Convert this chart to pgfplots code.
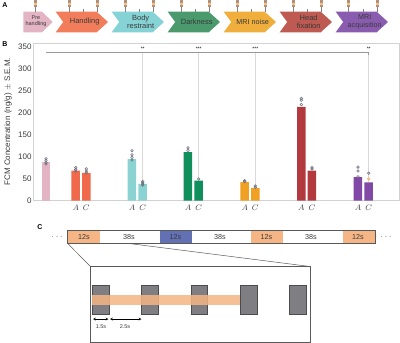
\documentclass[border=0pt]{standalone}
\usepackage{pgfplots}
\pgfplotsset{compat=1.18}
\usepackage{fontspec}
\setmainfont{Liberation Sans}
\definecolor{cpink}{HTML}{E3B4C3}
\definecolor{cred}{HTML}{F0694A}
\definecolor{cteal}{HTML}{8AD3D2}
\definecolor{cgreen}{HTML}{0F8F5C}
\definecolor{cor}{HTML}{F0A023}
\definecolor{cbrick}{HTML}{B23A3F}
\definecolor{cpur}{HTML}{8148A6}
\definecolor{agreen}{HTML}{4A9A6E}
\definecolor{abrick}{HTML}{BE5A52}
\definecolor{apur}{HTML}{8A5CB0}
\definecolor{ated}{HTML}{F27D5B}
\definecolor{ateal}{HTML}{86D3D6}
\definecolor{aor}{HTML}{F0AE3C}
\definecolor{txt}{HTML}{3A3A3A}
\definecolor{box}{HTML}{F5B584}
\definecolor{blu}{HTML}{6470B4}
\definecolor{gbox}{HTML}{7F7F83}
\definecolor{dot}{HTML}{6F7080}
\definecolor{syr}{HTML}{B0907A}
\begin{document}
\begin{tikzpicture}[x=1pt,y=-1pt,font=\fontsize{7}{8}\selectfont]
\useasboundingbox (0,0) rectangle (400,343);
% --- Panel A ---
\node[font=\bfseries\fontsize{7}{7}\selectfont] at (5,5) {A};
\node[font=\bfseries\fontsize{7}{7}\selectfont] at (5,44) {B};
\node[font=\bfseries\fontsize{7}{7}\selectfont] at (40,227) {C};
\fill[cpink] (23.3,11.7) -- (42,11.7) -- (52.7,22) -- (42,32.3) -- (23.3,32.3) -- cycle;
\node[txt,align=center,font=\fontsize{5.5}{6}\selectfont] at (36,21.5) {Pre\\handling};
\newcommand{\chev}[4]{%
 \fill[#2] (#1,11.7) -- ++(41,0) -- ++(11.3,10.3) -- ++(-11.3,10.3) -- ++(-41,0) -- ++(7.5,-10.3) -- cycle;
 \node[txt,align=center,font=\fontsize{#4}{8.5}\selectfont] at (#1+29,22) {#3};}
\chev{55.7}{ated}{Handling}{7.5}
\chev{111.7}{ateal}{Body\\restraint}{7.5}
\chev{167.7}{agreen}{Darkness}{7.5}
\chev{223.7}{aor}{MRI noise}{7.2}
\chev{279.7}{abrick}{Head\\fixation}{7.5}
\chev{335.7}{apur}{MRI\\acquisition}{7.2}
\foreach \s in {35,69.3,97.3,125,153.3,181,209.3,237,265.3,293,321.3,348.7,377.3}{
 \draw[gray,line width=.5pt] (\s,6) -- (\s,12);
 \fill[syr] (\s-1.5,0) rectangle (\s+1.5,6.5);
 \fill[orange!50] (\s-1.5,2.5) rectangle (\s+1.5,4.5);}
\foreach \s in {83.3,139.3,195.3,251.3,307.3,363.3}{\draw[gray,line width=.4pt] (\s,9) -- (\s,12);}
% --- Panel C ---
\fill[box] (67.7,230.5) rectangle (100,243.5);
\fill[blu] (159.7,230.5) rectangle (192,243.5);
\fill[box] (251,230.5) rectangle (283.3,243.5);
\fill[box] (343,230.5) rectangle (375,243.5);
\draw[gray!70!black,line width=.6pt] (67.7,230.5) rectangle (375,243.5);
\foreach \x/\t in {84/12s,129/38s,175.5/12s,220/38s,266.5/12s,311/38s,358/12s}
 \node[txt,font=\fontsize{7.2}{8}\selectfont] at (\x,237) {\t};
\node[txt] at (57,237) {.\,\,.\,\,.};
\node[txt] at (386,237) {.\,\,.\,\,.};
\draw[gray!70!black,line width=.5pt] (67.7,243.5) -- (90.5,266.5);
\draw[gray!70!black,line width=.5pt] (129,243.5) -- (310,266.5);
\draw[gray!70!black,line width=.7pt] (90.5,266.5) rectangle (310,342);
\foreach \x in {92.3,141.7,191,240.3,289.7}
 \filldraw[fill=gbox,draw=gray!60!black,line width=.6pt] (\x,285) rectangle (\x+16.5,314.5);
\fill[box,opacity=.85] (92.3,295) rectangle (240.3,304.5);
\draw[<->,>=stealth,line width=.3pt] (93,319) -- (108.5,319);
\draw[<->,>=stealth,line width=.3pt] (110,319) -- (141.5,319);
\node[txt,font=\fontsize{5.5}{6}\selectfont] at (101,327) {1.5s};
\node[txt,font=\fontsize{5.5}{6}\selectfont] at (125,327) {2.5s};
% --- Panel B ---
\begin{axis}[
  at={(33pt,-200.5pt)},anchor=south west,
  width=366.5pt,height=157.5pt,scale only axis,
  xmin=33,xmax=399.5,ymin=0,ymax=358,
  ybar,bar width=8.5pt,
  axis line style={gray!35,line width=.6pt},
  xtick={75.7,86.3,132,142.7,188,198.7,244.7,255.3,301.3,312,358,368.7},
  xticklabels={$A$,$C$,$A$,$C$,$A$,$C$,$A$,$C$,$A$,$C$,$A$,$C$},
  ytick={0,50,...,350},
  tick style={draw=none},
  tick label style={text=txt},
  yticklabel style={font=\fontsize{8}{8}\selectfont,xshift=2pt},
  xticklabel style={font=\fontsize{8.5}{8}\selectfont,yshift=3pt},
  /pgf/number format/assume math mode=true,
  ylabel={FCM Concentration (ng/g) $\pm$ S.E.M.},
  ylabel style={font=\fontsize{8}{8}\selectfont,text=txt,at={(axis description cs:-0.068,0.5)},anchor=center},
  clip=false,
]
\pgfplotsset{
  bracket/.style={no marks,sharp plot,forget plot,draw=gray!30,line width=.4pt},
  dots/.style={only marks,forget plot,mark=o,mark size=1.3pt,draw=dot,mark options={draw=dot,line width=.55pt}}}
\addplot[bracket] coordinates {(142.7,337) (142.7,38)};
\addplot[bracket] coordinates {(198.7,337) (198.7,45)};
\addplot[bracket] coordinates {(255.3,337) (255.3,28)};
\addplot[bracket] coordinates {(368.7,337) (368.7,41)};
\addplot[no marks,sharp plot,forget plot,draw=gray!80,line width=.5pt] coordinates {(46,337) (368.7,337)};
\addplot[no marks,sharp plot,forget plot,draw=gray!80,line width=.4pt] coordinates {(368.7,337) (368.7,330)};
\addplot[ybar,bar shift=0pt,fill=cpink,draw=none] coordinates {(46,88)};
\addplot[ybar,bar shift=0pt,fill=cred,draw=none] coordinates {(75.7,68) (86.3,63)};
\addplot[ybar,bar shift=0pt,fill=cteal,draw=none] coordinates {(132,94) (142.7,38)};
\addplot[ybar,bar shift=0pt,fill=cgreen,draw=none] coordinates {(188,110) (198.7,45)};
\addplot[ybar,bar shift=0pt,fill=cor,draw=none] coordinates {(244.7,42) (255.3,28)};
\addplot[ybar,bar shift=0pt,fill=cbrick,draw=none] coordinates {(301.3,213) (312,68)};
\addplot[ybar,bar shift=0pt,fill=cpur,draw=none] coordinates {(358,53) (368.7,41)};
\addplot[dots] coordinates {(46,95) (46,91) (46,86) (46,83)
 (75.7,75) (75.7,71) (75.7,67) (86.3,72) (86.3,67) (86.3,63)
 (132,113) (132,104) (132,98) (132,92)
 (142.7,43) (142.7,40) (142.7,37) (142.7,35)
 (188,120) (188,114) (198.7,49)
 (244.7,45) (244.7,43) (255.3,33) (255.3,30)
 (301.3,232) (301.3,228) (301.3,218) (312,75) (312,72)
 (358,76) (358,67) (358,54) (368.7,62)};
\addplot[only marks,forget plot,mark=o,mark size=1.3pt,mark options={draw=orange!70,line width=.55pt}] coordinates {(368.7,49)};
\addplot[only marks,forget plot,mark=text,text mark={\fontsize{5}{5}\selectfont **}] coordinates {(142.7,345) (368.7,345)};
\addplot[only marks,forget plot,mark=text,text mark={\fontsize{5}{5}\selectfont ***}] coordinates {(198.7,345) (255.3,345)};
\end{axis}
\end{tikzpicture}
\end{document}
